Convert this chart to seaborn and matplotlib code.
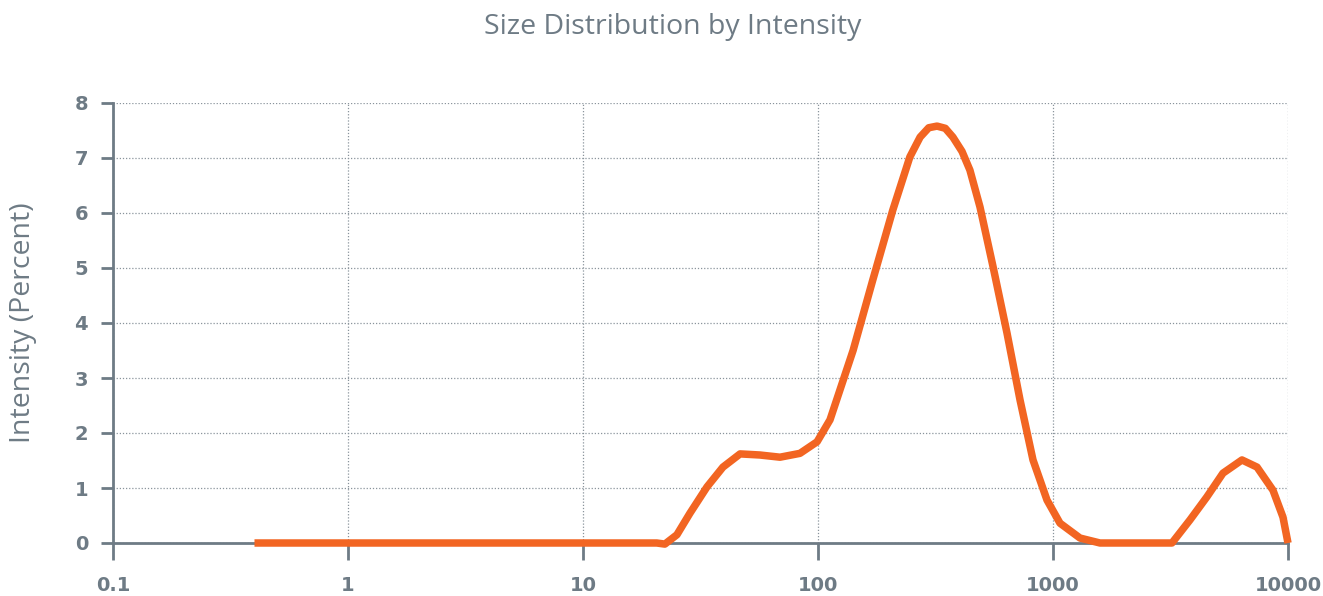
import numpy as np
import pandas as pd
import matplotlib.pyplot as plt
import matplotlib.ticker as mticker
import seaborn as sns

# Size (d.nm) and intensity (%)
size = [0.4, 20.6, 22.3, 25.1, 28.5, 33.7, 39.4, 46.6, 56.6, 68.9, 83.8, 99.1,
        112.5, 141, 171, 208, 246, 272, 296, 321, 348, 375, 410, 443, 489, 556,
        637, 724, 822, 943, 1071, 1303, 1585, 3208, 3828, 4520, 5288, 6370,
        7382, 8630, 9520, 10000]
intensity = [0, 0, -0.02, 0.15, 0.54, 1.02, 1.38, 1.62, 1.60, 1.56, 1.63, 1.84,
             2.24, 3.5, 4.78, 6.05, 7.02, 7.38, 7.55, 7.58, 7.54, 7.38, 7.12, 6.78,
             6.11, 5.02, 3.82, 2.6, 1.51, 0.78, 0.36, 0.09, 0, 0, 0.42, 0.84, 1.27,
             1.51, 1.38, 0.96, 0.47, 0]

x_ticks = [0.1, 1, 10, 100, 1000, 10000]
x_labels = ["0.1", "1", "10", "100", "1000", "10000"]
y_ticks = [0, 1, 2, 3, 4, 5, 6, 7, 8]

grey = "#6e7b85"
orange = "#f26522"

df = pd.DataFrame({"size": size, "intensity": intensity})

sns.set_theme(style="white")
plt.rcParams["font.family"] = ["Open Sans", "DejaVu Sans"]

fig = plt.figure(figsize=(13.23, 5.96), dpi=100)
ax = fig.add_axes([113/1323, 53/596, 1175/1323, 440/596])

sns.lineplot(data=df, x="size", y="intensity", color=orange, linewidth=5.4,
             ax=ax, clip_on=False, zorder=5,
             solid_joinstyle="round", solid_capstyle="butt")
ax.set_xscale("log")
ax.set_xlim(0.1, 10000)
ax.set_ylim(0, 8)

ax.xaxis.set_major_locator(mticker.FixedLocator(x_ticks))
ax.xaxis.set_minor_locator(mticker.NullLocator())
ax.set_xticklabels(x_labels)
ax.set_yticks(y_ticks)

for sp in ["top", "right"]:
    ax.spines[sp].set_visible(False)
for sp in ["left", "bottom"]:
    ax.spines[sp].set_color(grey)
    ax.spines[sp].set_linewidth(2)

ax.grid(True, which="major", linestyle=(0, (1, 1.5)), color="#8a949c", linewidth=0.9)
ax.tick_params(axis="x", direction="out", length=12, width=2, color=grey,
               labelcolor=grey, labelsize=14, pad=12, bottom=True)
ax.tick_params(axis="y", direction="out", length=9, width=2, color=grey,
               labelcolor=grey, labelsize=14, pad=9, left=True)
for lab in ax.get_xticklabels() + ax.get_yticklabels():
    lab.set_fontweight("bold")
    lab.set_family(["DejaVu Sans"])

ax.set_xlabel("")
ax.set_ylabel("Intensity (Percent)", color=grey, fontsize=20.5, labelpad=27)

fig.text(673/1323, 1 - 27/596, "Size Distribution by Intensity", color=grey,
         fontsize=20.5, ha="center", va="center")

fig.savefig("out.png", dpi=100)
